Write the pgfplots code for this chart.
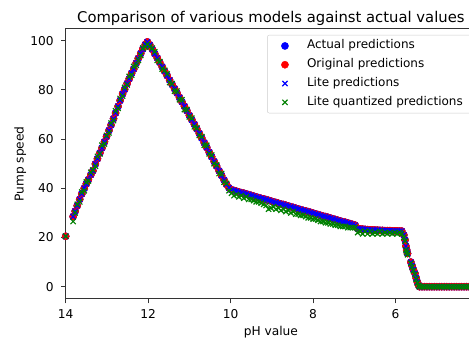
\documentclass[border=0pt]{standalone}
\usepackage{pgfplots}
\pgfplotsset{compat=1.18}
\usepackage{pgfplotstable}
\usepackage{fontspec}
\setmainfont{DejaVu Sans}
\pgfplotstableread{
x y q
14.00 20.5 20.5
13.82 28.5 26.5
13.77 30.7 30.0
13.72 32.9 33.5
13.66 35.5 34.5
13.61 37.7 38.5
13.55 40.0 39.0
13.50 41.8 42.5
13.45 43.5 43.0
13.39 45.5 46.5
13.34 47.1 47.5
13.28 49.9 49.0
13.23 52.0 53.0
13.17 54.4 54.0
13.12 56.4 57.5
13.06 58.9 58.0
13.01 61.0 61.5
12.95 63.5 62.5
12.90 65.7 66.5
12.84 68.3 67.5
12.79 70.6 71.5
12.73 73.3 72.5
12.68 75.7 76.5
12.62 78.4 77.5
12.57 80.2 81.0
12.51 82.6 82.0
12.46 84.5 85.5
12.40 86.8 86.0
12.35 88.5 89.5
12.29 90.9 90.0
12.24 92.8 92.0
12.18 94.8 94.0
12.13 96.6 97.0
12.07 98.4 97.5
12.02 99.5 98.5
11.96 98.3 97.5
11.90 96.5 97.0
11.84 94.7 95.5
11.78 93.0 92.0
11.72 91.2 91.5
11.66 89.4 88.5
11.60 87.6 88.0
11.54 85.8 86.5
11.48 84.0 83.0
11.42 82.2 82.5
11.36 80.5 79.5
11.30 78.7 79.5
11.24 76.9 76.0
11.18 75.1 76.0
11.12 73.3 72.0
11.06 71.5 72.0
11.00 69.6 69.0
10.94 67.8 68.5
10.88 66.0 65.0
10.82 64.1 64.5
10.76 62.3 61.5
10.70 60.4 61.0
10.64 58.5 57.5
10.58 56.6 57.5
10.52 54.7 54.0
10.46 52.8 53.5
10.40 50.9 50.0
10.34 49.0 49.5
10.28 47.1 46.0
10.22 45.2 46.0
10.16 43.4 42.5
10.10 41.6 42.0
10.04 40.2 39.0
9.98 39.4 38.0
9.92 39.1 37.0
9.86 38.8 37.5
9.80 38.5 36.5
9.74 38.2 37.0
9.68 38.0 36.0
9.62 37.7 36.5
9.56 37.4 35.5
9.50 37.1 35.5
9.44 36.8 35.0
9.38 36.5 34.5
9.32 36.2 34.5
9.26 35.9 34.0
9.20 35.7 33.5
9.14 35.4 33.0
9.08 35.1 31.5
9.02 34.8 32.0
8.96 34.5 32.5
8.90 34.2 31.5
8.84 33.9 32.0
8.78 33.6 31.0
8.72 33.4 31.5
8.66 33.1 30.5
8.60 32.8 31.0
8.54 32.5 30.0
8.48 32.2 30.5
8.42 31.9 29.5
8.36 31.6 29.5
8.30 31.3 29.0
8.24 31.0 29.0
8.18 30.8 28.5
8.12 30.5 28.0
8.06 30.2 28.0
8.00 29.9 27.5
7.94 29.6 27.5
7.88 29.3 27.0
7.82 29.0 26.5
7.76 28.7 26.5
7.70 28.5 26.0
7.64 28.2 26.0
7.58 27.9 25.5
7.52 27.6 25.5
7.46 27.3 25.0
7.40 27.0 25.0
7.34 26.7 24.5
7.28 26.4 24.5
7.22 26.2 24.5
7.16 25.9 24.0
7.10 25.6 24.0
7.04 25.3 24.0
6.98 25.0 24.0
6.92 23.6 22.0
6.86 23.5 22.5
6.80 23.4 21.5
6.74 23.3 22.5
6.68 23.2 21.5
6.62 23.1 22.5
6.56 23.1 21.5
6.50 23.0 22.0
6.44 23.0 21.5
6.38 22.9 22.5
6.32 22.9 21.5
6.26 22.8 22.0
6.20 22.8 21.5
6.14 22.8 22.0
6.08 22.7 21.5
6.02 22.7 22.0
5.96 22.7 21.5
5.90 22.6 22.0
5.85 22.6 21.5
5.80 21.0 20.0
5.77 19.0 18.5
5.75 16.5 15.0
5.73 14.9 14.0
5.71 13.5 13.0
5.63 10.0 9.5
5.60 8.5 8.0
5.57 7.0 6.5
5.53 5.4 5.0
5.50 3.5 3.0
5.47 1.8 1.5
5.44 0.5 0.5
5.42 0 0
5.36 0 0
5.30 0 0
5.24 0 0
5.18 0 0
5.12 0 0
5.06 0 0
5.00 0 0
4.94 0 0
4.88 0 0
4.82 0 0
4.76 0 0
4.70 0 0
4.64 0 0
4.58 0 0
4.52 0 0
4.46 0 0
4.40 0 0
4.34 0 0
4.28 0 0
4.22 0 0
4.16 0 0
4.10 0 0
}\data

\begin{document}
\begin{tikzpicture}
\useasboundingbox (-65.7pt,-40pt) rectangle (403.3pt,299pt);
\clip (-65.7pt,-40pt) rectangle (403.3pt,299pt);
\begin{axis}[
  at={(0pt,0pt)}, anchor=south west,
  scale only axis, width=410.3pt, height=270pt,
  x dir=reverse, xmin=4.05, xmax=14, ymin=-5, ymax=104.75,
  xtick={6,8,10,12,14}, ytick={0,20,40,60,80,100},
  tick align=outside, xtick pos=bottom, ytick pos=left,
  major tick length=4.3pt,
  every tick/.style={black!80, line width=1pt},
  axis line style={black!80, line width=1pt},
  tick label style={font=\fontsize{12.2}{14}\selectfont},
  /pgf/number format/assume math mode=true,
  xticklabel style={anchor=base, inner sep=0pt, yshift=-15.5pt},
  yticklabel style={anchor=east, inner sep=0pt, xshift=-7.5pt},
  title={Comparison of various models against actual values},
  title style={font=\fontsize{14.8}{17}\selectfont, at={(axis description cs:0.5,1.002)}, anchor=base, inner sep=0pt},
  xlabel={pH value}, ylabel={Pump speed},
  label style={font=\fontsize{12.2}{14}\selectfont},
  xlabel style={at={(axis description cs:0.5,-0.137)}, anchor=base, inner sep=0pt},
  ylabel style={at={(axis description cs:-0.1024,0.5)}, anchor=base, inner sep=0pt},
  legend cell align=left,
  legend style={at={(0.491,0.978)}, anchor=north west, draw=black!20, rounded corners=2pt,
    fill=white, font=\fontsize{12}{14}\selectfont,
    inner xsep=14pt, inner ysep=4.8pt, row sep=6.8pt, column sep=18.5pt,
    nodes={inner sep=0pt, text height=9pt, text depth=3pt}},
]
\addplot[only marks, mark=*, mark size=3.6pt, blue, mark options={draw=blue, fill=blue, line width=0.4pt}] table[x=x,y=y]{\data};
\addlegendentry{Actual predictions}
\addplot[only marks, mark=*, mark size=3.6pt, red, mark options={draw=red, fill=red, line width=0.4pt}] table[x=x,y=y]{\data};
\addlegendentry{Original predictions}
\addplot[only marks, mark=x, mark size=3.7pt, blue, mark options={line width=1.2pt}] table[x=x,y=y]{\data};
\addlegendentry{Lite predictions}
\addplot[only marks, mark=x, mark size=3.7pt, green!50!black, mark options={line width=1.2pt}] table[x=x,y=q]{\data};
\addlegendentry{Lite quantized predictions}
\end{axis}
\end{tikzpicture}
\end{document}
